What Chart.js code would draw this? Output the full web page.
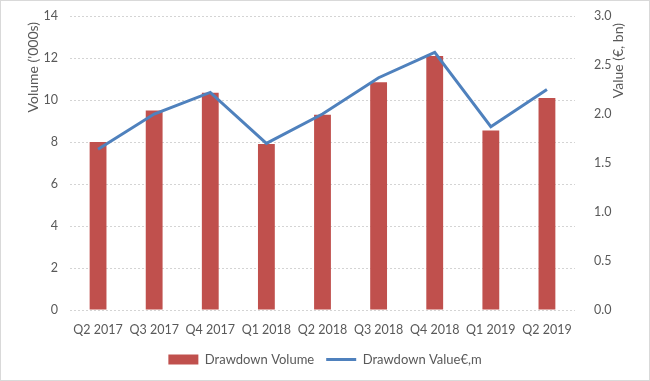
<!DOCTYPE html>
<html><head><meta charset="utf-8">
<script src="https://cdn.jsdelivr.net/npm/chart.js@4/dist/chart.umd.min.js"></script>
<style>
html,body{margin:0;padding:0;background:#fff;}
#wrap{width:650px;height:381px;box-sizing:border-box;border:1px solid #d9d9d9;position:relative;}
canvas{display:block;}
</style></head>
<body><div id="wrap"><canvas id="c" width="648" height="379"></canvas></div>
<script>
const categories = ["Q2 2017","Q3 2017","Q4 2017","Q1 2018","Q2 2018","Q3 2018","Q4 2018","Q1 2019","Q2 2019"];
const drawdownVolume = [8.0, 9.5, 10.35, 7.9, 9.3, 10.85, 12.1, 8.55, 10.1];
const drawdownValue = [1.64, 2.0, 2.22, 1.70, 2.0, 2.37, 2.63, 1.87, 2.25];
const leftTicks = [0,2,4,6,8,10,12,14];
const rightTicks = [0.0,0.5,1.0,1.5,2.0,2.5,3.0];

const FONT = "Lato, 'Open Sans', sans-serif";
const TXT = '#595959';

const titles = {
  id:'titles',
  afterDraw(chart){
    const ctx = chart.ctx;
    ctx.save();
    ctx.fillStyle = TXT;
    ctx.font = "14px " + FONT;
    ctx.textBaseline = 'middle';
    ctx.textAlign = 'right';
    ctx.translate(32, 21);
    ctx.rotate(-Math.PI/2);
    ctx.fillText("Volume ('000s)", 0, 0);
    ctx.restore();
    ctx.save();
    ctx.fillStyle = TXT;
    ctx.font = "14px " + FONT;
    ctx.textBaseline = 'middle';
    ctx.textAlign = 'right';
    ctx.translate(617, 22);
    ctx.rotate(-Math.PI/2);
    ctx.fillText("Value (€, bn)", 0, 0);
    ctx.restore();
  }
};

new Chart(document.getElementById('c'), {
  data: {
    labels: categories,
    datasets: [
      { type:'line', label:'Drawdown Value€,m', data: drawdownValue, yAxisID:'y2',
        borderColor:'#4F81BD', backgroundColor:'#4F81BD', borderWidth:3, pointRadius:0, tension:0, order:0 },
      { type:'bar', label:'Drawdown Volume', data: drawdownVolume, yAxisID:'y',
        backgroundColor:'#C0504D', borderWidth:0, barPercentage:0.3, categoryPercentage:1.0, order:1 }
    ]
  },
  options: {
    responsive:false, animation:false,
    layout:{ padding:{ top:15, bottom:4, left:0, right:0 } },
    plugins:{
      tooltip:{enabled:false},
      legend:{
        position:'bottom',
        reverse:true,
        labels:{
          font:{family:FONT, size:13}, color:TXT,
          usePointStyle:true, pointStyleWidth:30, boxHeight:10, padding:12,
          generateLabels(chart){
            return chart.data.datasets.map((ds,i)=>({
              text: ds.label,
              fillStyle: ds.type==='bar' ? '#C0504D' : '#4F81BD',
              strokeStyle: ds.type==='bar' ? '#C0504D' : '#4F81BD',
              lineWidth: ds.type==='bar' ? 0 : 3,
              pointStyle: ds.type==='bar' ? 'rect' : 'line',
              fontColor: TXT,
              hidden:false, datasetIndex:i
            }));
          }
        }
      }
    },
    scales:{
      x:{
        grid:{display:false}, border:{display:false},
        ticks:{font:{family:FONT,size:12.5}, color:TXT, padding:4, maxRotation:0, autoSkip:false}
      },
      y:{
        position:'left', min:0, max:14,
        afterBuildTicks(s){ s.ticks = leftTicks.map(v=>({value:v})); },
        afterFit(s){ s.width = 69; s.paddingTop = 0; s.paddingBottom = 0; },
        grid:{color:'#d4d4d4', drawTicks:false},
        border:{display:false, dash:[2,2]},
        ticks:{font:{family:FONT,size:12.5}, color:TXT, padding:12}
      },
      y2:{
        position:'right', min:0, max:3,
        afterBuildTicks(s){ s.ticks = rightTicks.map(v=>({value:v})); },
        afterFit(s){ s.width = 74; s.paddingTop = 0; s.paddingBottom = 0; },
        grid:{display:false}, border:{display:false},
        ticks:{font:{family:FONT,size:12.5}, color:TXT, padding:11, callback:(v)=>Number(v).toFixed(1)}
      }
    }
  },
  plugins:[titles]
});
</script></body></html>
